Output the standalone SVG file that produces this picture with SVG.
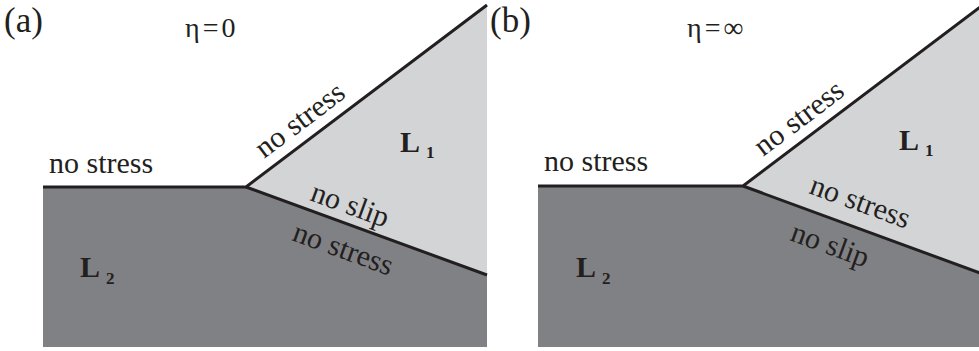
<svg xmlns="http://www.w3.org/2000/svg" width="979" height="351" viewBox="0 0 979 351">
<style>
.t{font-family:"Liberation Serif","Times New Roman",serif;fill:#231f20}
.lbl{font-size:30px}
.pan{font-size:35px}
.eta{font-size:28px;letter-spacing:3px}
.L{font-size:30px;font-weight:bold}
.sub{font-size:17px;font-weight:bold}
.light{fill:#d3d4d6}
.dark{fill:#808184}
.edge{fill:none;stroke:#231f20;stroke-width:3;stroke-linejoin:miter}
</style>
<g id="panel-a">
  <g id="a-L2"><polygon class="dark" points="43,187 246,187 487,275 487,347 43,347"/></g>
  <g id="a-L1"><polygon class="light" points="246,187 487,6 487,275"/></g>
  <g id="a-connectors">
    <polyline class="edge" points="43,187 246,187 487,5"/>
    <line class="edge" x1="246" y1="187" x2="487" y2="275"/>
  </g>
  <text class="t pan" x="4" y="32">(a)</text>
  <text class="t eta" x="185" y="37">η=0</text>
  <text class="t lbl" x="49" y="173">no stress</text>
  <text class="t lbl" transform="translate(264,159) rotate(-37)">no stress</text>
  <text class="t lbl" transform="translate(309,200) rotate(20)">no slip</text>
  <text class="t lbl" transform="translate(291,240) rotate(20)">no stress</text>
  <text class="t" x="400" y="152"><tspan class="L">L</tspan><tspan class="sub" dx="6" dy="6">1</tspan></text>
  <text class="t" x="80" y="277"><tspan class="L">L</tspan><tspan class="sub" dx="6" dy="7">2</tspan></text>
</g>
<g id="panel-b">
  <g id="b-L2"><polygon class="dark" points="538,186 743,186 979,273 979,347 538,347"/></g>
  <g id="b-L1"><polygon class="light" points="743,186 979,8 979,273"/></g>
  <g id="b-connectors">
    <polyline class="edge" points="538,186 743,186 980,7"/>
    <line class="edge" x1="743" y1="186" x2="980" y2="273"/>
  </g>
  <text class="t pan" x="490" y="32">(b)</text>
  <text class="t eta" x="687" y="37">η=∞</text>
  <text class="t lbl" x="544" y="171">no stress</text>
  <text class="t lbl" transform="translate(763,157) rotate(-37)">no stress</text>
  <text class="t lbl" transform="translate(808,193) rotate(20)">no stress</text>
  <text class="t lbl" transform="translate(789,240) rotate(20)">no slip</text>
  <text class="t" x="899" y="150"><tspan class="L">L</tspan><tspan class="sub" dx="6" dy="6">1</tspan></text>
  <text class="t" x="576" y="277"><tspan class="L">L</tspan><tspan class="sub" dx="6" dy="7">2</tspan></text>
</g>
</svg>
